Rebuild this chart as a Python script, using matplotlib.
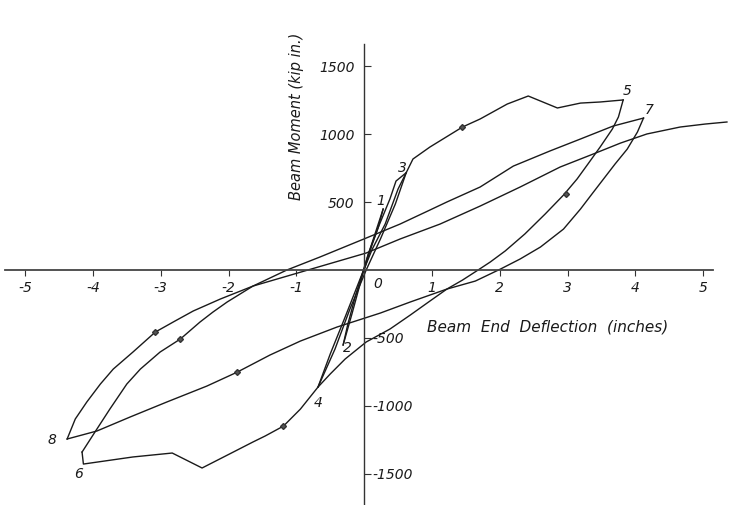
import matplotlib
matplotlib.use('Agg')
import matplotlib.pyplot as plt
import numpy as np

# beam end deflection (in) / beam moment (kip in.), loading history branches
b01_x = [0, 0.12, 0.21, 0.28]
b01_y = [0, 191, 316, 448]
b12_x = [0.28, 0.16, 0.03, -0.12, -0.24, -0.31]
b12_y = [448, 265, 66, -176, -397, -551]
b23_x = [-0.31, -0.18, -0.06, 0.06, 0.21, 0.38, 0.47, 0.62]
b23_y = [-551, -323, -103, 118, 316, 522, 654, 715]
b34_x = [0.62, 0.46, 0.24, 0.03, -0.21, -0.43, -0.68]
b34_y = [715, 485, 228, 0, -287, -581, -860]
b45_x = [-0.68, -0.50, -0.28, -0.06, 0.12, 0.31, 0.50, 0.62, 0.72, 0.97, 1.45,
         1.71, 2.11, 2.42, 2.85, 3.19, 3.48, 3.82]
b45_y = [-860, -617, -345, -66, 154, 338, 595, 715, 816, 904, 1051,
         1110, 1220, 1279, 1191, 1227, 1235, 1250]
b56_x = [3.82, 3.75, 3.66, 3.48, 3.30, 3.14, 2.94, 2.67, 2.37, 2.08, 1.86, 1.68,
         1.45, 1.22, 0.97, 0.68, 0.38, 0.03, -0.28, -0.50, -0.68, -0.94, -1.19,
         -1.46, -1.64, -1.93, -2.39, -2.83, -3.41, -4.14, -4.16]
b56_y = [1250, 1125, 1036, 904, 779, 669, 551, 412, 265, 140, 59, 0,
         -74, -140, -228, -331, -434, -529, -654, -764, -860, -1022, -1147,
         -1220, -1264, -1338, -1455, -1345, -1374, -1426, -1338]
b67_x = [-4.16, -3.97, -3.75, -3.50, -3.30, -3.01, -2.71, -2.42, -2.23, -2.02,
         -1.64, -1.14, -0.65, 0.03, 0.53, 0.97, 1.22, 1.71, 2.20, 2.74, 3.19,
         3.67, 4.12]
b67_y = [-1338, -1191, -1022, -838, -728, -603, -507, -382, -309, -235,
         -118, 0, 96, 235, 338, 441, 500, 610, 764, 875, 963,
         1058, 1117]
b78_x = [4.12, 4.03, 3.88, 3.70, 3.53, 3.36, 3.19, 2.94, 2.60, 2.30, 2.01, 1.64,
         1.22, 0.68, 0.24, -0.40, -0.94, -1.39, -1.87, -2.32, -2.91, -3.45,
         -3.94, -4.38]
b78_y = [1117, 1014, 889, 779, 669, 559, 448, 301, 169, 81, 7, -81,
         -140, -235, -316, -419, -522, -625, -750, -853, -970, -1080,
         -1183, -1242]
b8e_x = [-4.38, -4.26, -4.09, -3.89, -3.70, -3.41, -3.08, -2.79, -2.52, -2.12,
         -1.64, -0.83, 0.03, 0.53, 1.12, 1.71, 2.30, 2.89, 3.38, 3.78, 4.17,
         4.66, 5.03, 5.35]
b8e_y = [-1242, -1095, -970, -838, -728, -603, -456, -375, -301, -213,
         -118, 0, 125, 228, 338, 470, 610, 757, 853, 933, 1000,
         1051, 1073, 1088]

# direction marks along the branches
arrow_x = [1.45, 2.97, -1.19, -1.87, -3.08, -2.71]
arrow_y = [1051, 559, -1147, -750, -456, -507]

# load point numbers
pt_labels = ['1', '2', '3', '4', '5', '6', '7', '8']
pt_x = [0.25, -0.24, 0.56, -0.68, 3.88, -4.21, 4.2, -4.6]
pt_y = [515, -565, 760, -970, 1320, -1490, 1185, -1242]

xticks = [-5, -4, -3, -2, -1, 1, 2, 3, 4, 5]
yticks = [-1500, -1000, -500, 500, 1000, 1500]

fig = plt.figure(figsize=(7.31, 5.06), dpi=100)
ax = fig.add_axes([0, 0, 1, 1])
ax.set_xlim(-5.37, 5.41)
ax.set_ylim(-1727, 1992)

lc = '#1a1a1a'
for bx, by in [(b01_x, b01_y), (b12_x, b12_y), (b23_x, b23_y), (b34_x, b34_y),
               (b45_x, b45_y), (b56_x, b56_y), (b67_x, b67_y), (b78_x, b78_y),
               (b8e_x, b8e_y)]:
    ax.plot(bx, by, color=lc, lw=1.0, solid_joinstyle='round')

ax.plot(arrow_x, arrow_y, 'D', color='#555555', ms=3, mec='#333333')

font = dict(family='DejaVu Sans', style='italic', size=10, color=lc)
for t, px, py in zip(pt_labels, pt_x, pt_y):
    ax.text(px, py, t, ha='center', va='center', **font)

# axes through the origin
for s in ('top', 'right'):
    ax.spines[s].set_visible(False)
ax.spines['left'].set_position(('data', 0))
ax.spines['bottom'].set_position(('data', 0))
ax.spines['left'].set_bounds(-1727, 1660)
ax.spines['bottom'].set_bounds(-5.3, 5.15)
ax.spines['left'].set_color('#333333')
ax.spines['bottom'].set_color('#444444')
ax.spines['left'].set_linewidth(1.0)
ax.spines['bottom'].set_linewidth(1.3)

ax.set_xticks(xticks)
ax.set_xticklabels([str(v) for v in xticks], fontdict=font)
ax.tick_params(axis='x', direction='out', length=4, pad=3, color='#333333')
ax.set_yticks(yticks)
ax.set_yticklabels([str(v) if v > 0 else '' for v in yticks], fontdict=font)
ax.tick_params(axis='y', direction='in', length=5, pad=7, color='#333333')
for v in yticks:
    if v < 0:
        ax.text(0.12, v, str(v), ha='left', va='center', **font)
ax.text(0.2, -95, '0', ha='center', va='center', **font)

ax.text(2.7, -415, 'Beam  End  Deflection  (inches)', ha='center', va='center',
        fontdict=dict(font, size=11))
ax.text(-1.0, 1140, 'Beam Moment (kip in.)', ha='center', va='center',
        rotation=90, fontdict=dict(font, size=10.5))

fig.savefig('out.png', dpi=100)
